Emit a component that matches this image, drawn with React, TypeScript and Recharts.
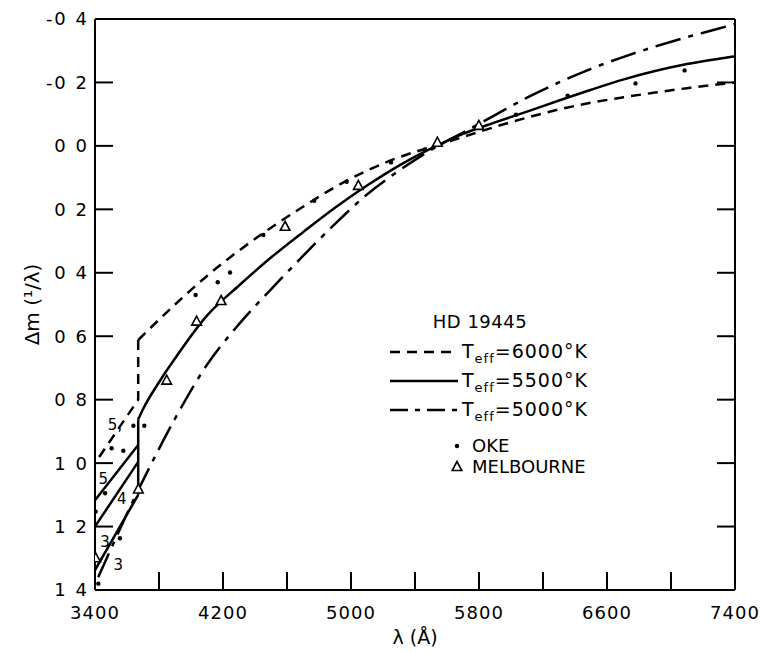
import React from 'react'
import { ComposedChart, Line, Scatter, XAxis, YAxis, Legend } from 'recharts'

const FONT = '"DejaVu Sans", sans-serif'

// 軸の目盛り
const xTicks = [3400, 3800, 4200, 4600, 5000, 5400, 5800, 6200, 6600, 7000, 7400]
const xLabelled = [3400, 4200, 5000, 5800, 6600, 7400]
const yTicks = [-0.4, -0.2, 0, 0.2, 0.4, 0.6, 0.8, 1.0, 1.2, 1.4]

// Teff = 6000 K (破線)
const t6000: [number, number][] = [
  [3670, 0.612], [3900, 0.5], [4100, 0.41], [4300, 0.33], [4500, 0.258],
  [4700, 0.192], [4900, 0.13], [5100, 0.078], [5300, 0.036], [5550, -0.004],
  [5700, -0.028], [5900, -0.06], [6100, -0.089], [6300, -0.115], [6500, -0.136],
  [6700, -0.153], [6900, -0.168], [7100, -0.182], [7300, -0.194], [7400, -0.2],
]
const t6000Jump: [number, number][] = [[3670, 0.612], [3670, 0.8], [3400, 1.0]]

// Teff = 5500 K (実線)
const t5500: [number, number][] = [
  [3670, 0.862], [3700, 0.83], [3800, 0.745], [3900, 0.67], [4100, 0.535],
  [4300, 0.44], [4500, 0.352], [4700, 0.272], [4900, 0.195], [5100, 0.125],
  [5300, 0.062], [5550, -0.004], [5700, -0.038], [5900, -0.074], [6100, -0.108],
  [6300, -0.143], [6500, -0.177], [6700, -0.209], [6900, -0.236], [7100, -0.258],
  [7300, -0.275], [7400, -0.283],
]
const t5500Jump: [number, number][] = [[3670, 0.862], [3670, 1.1]]
const t5500g5: [number, number][] = [[3670, 0.943], [3400, 1.117]]
const t5500g4: [number, number][] = [[3670, 0.996], [3400, 1.2]]
const t5500g3: [number, number][] = [[3670, 1.1], [3400, 1.337]]

// Teff = 5000 K (一点鎖線)
const t5000: [number, number][] = [
  [3420, 1.36], [3680, 1.075], [3800, 0.955], [3900, 0.86], [4100, 0.69],
  [4300, 0.562], [4500, 0.452], [4700, 0.347], [4900, 0.246], [5100, 0.153],
  [5300, 0.078], [5550, -0.002], [5700, -0.042], [5900, -0.097], [6100, -0.152],
  [6300, -0.2], [6500, -0.243], [6700, -0.28], [6900, -0.313], [7100, -0.343],
  [7300, -0.37], [7400, -0.384],
]

// 観測値
const oke: [number, number][] = [
  [3404, 1.153], [3421, 1.38], [3463, 1.095], [3504, 0.953], [3556, 1.237],
  [3577, 0.961], [3640, 0.882], [3708, 0.882], [4029, 0.47], [4167, 0.43],
  [4244, 0.399], [4452, 0.281], [4770, 0.173], [4973, 0.113], [5250, 0.052],
  [5462, 0.011], [6031, -0.098], [6354, -0.158], [6778, -0.197], [7085, -0.238],
]
const melbourne: [number, number][] = [
  [3404, 1.3], [3671, 1.083], [3848, 0.74], [4035, 0.554], [4188, 0.489],
  [4588, 0.255], [5046, 0.126], [5540, -0.01], [5799, -0.063],
]

// log g の注記
const gLabels: [number, number, string][] = [
  [3525, 0.88, '5,'], [3452, 1.048, '5'], [3567, 1.111, '4'],
  [3462, 1.248, '3'], [3546, 1.321, '3'],
]

const legendTitle = 'HD 19445'
const legendTemps = ['6000', '5500', '5000']
const legendObs = ['OKE', 'MELBOURNE']

const pts = (a: [number, number][]) => a.map(([lam, m]) => ({ lam, m }))

const DASH_6000 = '10 7'
const DASH_5000 = '26 8 5 8'
const TICK = 18

const fmtY = (v: number) => {
  const a = Math.abs(v)
  const i = Math.floor(a + 1e-9)
  const d = Math.round((a - i) * 10) % 10
  return `${v < 0 ? '-' : ''}${i} ${d}`
}

// 内向きの目盛り線 + ラベル
const BottomTick = ({ x, y, payload }: any) => (
  <g>
    <line x1={x} x2={x} y1={y - 16} y2={y - 16 - TICK} stroke="#000" strokeWidth={2} />
    {xLabelled.includes(payload.value) && (
      <text x={x} y={y} dy="0.71em" textAnchor="middle" fontFamily={FONT} fontSize={18} letterSpacing={1} fill="#000">
        {payload.value}
      </text>
    )}
  </g>
)

const LeftTick = ({ x, y, payload }: any) => (
  <g>
    <line x1={x + 8} x2={x + 8 + TICK} y1={y} y2={y} stroke="#000" strokeWidth={2} />
    <text x={x + 2} y={y} dy="0.36em" textAnchor="end" fontFamily={FONT} fontSize={18} letterSpacing={2} fill="#000">
      {fmtY(payload.value)}
    </text>
  </g>
)

const TopTick = ({ x, y }: any) => <line x1={x} x2={x} y1={y} y2={y + TICK} stroke="#000" strokeWidth={2} />
const RightTick = ({ x, y }: any) => <line x1={x} x2={x - TICK} y1={y} y2={y} stroke="#000" strokeWidth={2} />

const Triangle = ({ cx, cy }: any) => (
  <polygon
    points={`${cx},${cy - 5.5} ${cx - 4.8},${cy + 3.5} ${cx + 4.8},${cy + 3.5}`}
    fill="#fff"
    stroke="#000"
    strokeWidth={1.6}
  />
)

const Dot = ({ cx, cy }: any) => <circle cx={cx} cy={cy} r={2.2} fill="#000" />

const LegendBox = () => (
  <svg width={260} height={180} style={{ display: 'block' }}>
    <g fontFamily={FONT} fill="#000">
      <text x={100} y={23} fontSize={18} textAnchor="middle" letterSpacing={0.5}>
        {legendTitle}
      </text>
      {legendTemps.map((t, i) => {
        const yy = 47 + i * 29
        return (
          <g key={t}>
            <line
              x1={10}
              x2={78}
              y1={yy}
              y2={yy}
              stroke="#000"
              strokeWidth={2.5}
              strokeDasharray={i === 0 ? DASH_6000 : i === 2 ? '18 7 5 7' : undefined}
            />
            <text x={82} y={yy + 6} fontSize={19} letterSpacing={1}>
              T<tspan fontSize={13} dy={5}>eff</tspan>
              <tspan dy={-5}>={t}°K</tspan>
            </text>
          </g>
        )
      })}
      <circle cx={77} cy={141} r={2.2} />
      <text x={92} y={147} fontSize={18}>
        {legendObs[0]}
      </text>
      <polygon points="77,156.5 72.2,165.5 81.8,165.5" fill="#fff" stroke="#000" strokeWidth={1.6} />
      <text x={92} y={168} fontSize={18}>
        {legendObs[1]}
      </text>
    </g>
  </svg>
)

const YTitle = ({ viewBox }: any) => {
  const cx = viewBox.x - 3
  const cy = viewBox.y + viewBox.height / 2
  return (
    <text x={cx} y={cy} transform={`rotate(-90 ${cx} ${cy})`} textAnchor="middle" dy="0.36em" fontFamily={FONT} fontSize={20} fill="#000">
      Δm (¹/λ)
    </text>
  )
}

const XTitle = ({ viewBox }: any) => (
  <text x={viewBox.x + viewBox.width / 2} y={viewBox.y + viewBox.height + 22} textAnchor="middle" fontFamily={FONT} fontSize={19} fill="#000">
    λ (Å)
  </text>
)

const common = { xAxisId: 'b', yAxisId: 'l', isAnimationActive: false, dot: false, stroke: '#000', strokeWidth: 2.5, legendType: 'none' as const }
const frame = { stroke: '#000', strokeWidth: 2 }

export default function App() {
  return (
    <div style={{ position: 'absolute', left: 0, top: 0, width: 760, height: 652, background: '#fff' }}>
      <ComposedChart width={760} height={652} margin={{ top: 18, right: 24, bottom: 30, left: 35 }}>
        <XAxis
          xAxisId="b"
          dataKey="lam"
          type="number"
          domain={[3400, 7400]}
          ticks={xTicks}
          interval={0}
          allowDataOverflow
          height={32}
          tickSize={0}
          tickMargin={16}
          tick={<BottomTick />}
          axisLine={frame}
          tickLine={false}
          label={<XTitle />}
        />
        <XAxis
          xAxisId="t"
          orientation="top"
          type="number"
          domain={[3400, 7400]}
          ticks={xTicks}
          interval={0}
          allowDataOverflow
          height={1}
          tickSize={0}
          tickMargin={0}
          tick={<TopTick />}
          axisLine={frame}
          tickLine={false}
        />
        <YAxis
          yAxisId="l"
          dataKey="m"
          type="number"
          domain={[-0.4, 1.4]}
          ticks={yTicks}
          interval={0}
          reversed
          allowDataOverflow
          width={60}
          tickSize={0}
          tickMargin={8}
          tick={<LeftTick />}
          axisLine={frame}
          tickLine={false}
          label={<YTitle />}
        />
        <YAxis
          yAxisId="r"
          orientation="right"
          type="number"
          domain={[-0.4, 1.4]}
          ticks={yTicks}
          interval={0}
          reversed
          allowDataOverflow
          width={1}
          tickSize={0}
          tickMargin={0}
          tick={<RightTick />}
          axisLine={frame}
          tickLine={false}
        />

        {/* 6000 K */}
        <Line {...common} data={pts(t6000)} dataKey="m" type="monotone" strokeDasharray={DASH_6000} />
        <Line {...common} data={pts(t6000Jump)} dataKey="m" type="linear" strokeDasharray={DASH_6000} />

        {/* 5500 K */}
        <Line {...common} data={pts(t5500)} dataKey="m" type="monotone" />
        <Line {...common} data={pts(t5500Jump)} dataKey="m" type="linear" />
        <Line {...common} data={pts(t5500g5)} dataKey="m" type="linear" />
        <Line {...common} data={pts(t5500g4)} dataKey="m" type="linear" />
        <Line {...common} data={pts(t5500g3)} dataKey="m" type="linear" />

        {/* 5000 K */}
        <Line {...common} data={pts(t5000)} dataKey="m" type="monotone" strokeDasharray={DASH_5000} />

        <Scatter xAxisId="b" yAxisId="l" data={pts(oke)} shape={<Dot />} isAnimationActive={false} legendType="none" />
        <Scatter xAxisId="b" yAxisId="l" data={pts(melbourne)} shape={<Triangle />} isAnimationActive={false} legendType="none" />
        <Scatter
          xAxisId="b"
          yAxisId="l"
          data={gLabels.map(([lam, m, text]) => ({ lam, m, text }))}
          isAnimationActive={false}
          legendType="none"
          shape={(p: any) => (
            <text x={p.cx} y={p.cy} dy="0.36em" textAnchor="middle" fontFamily={FONT} fontSize={15} fill="#000">
              {p.payload.text}
            </text>
          )}
        />

        <Legend
          layout="vertical"
          verticalAlign="middle"
          align="center"
          content={() => <LegendBox />}
          wrapperStyle={{ position: 'absolute', left: 380, top: 305, width: 260, height: 180 }}
        />
      </ComposedChart>
    </div>
  )
}
